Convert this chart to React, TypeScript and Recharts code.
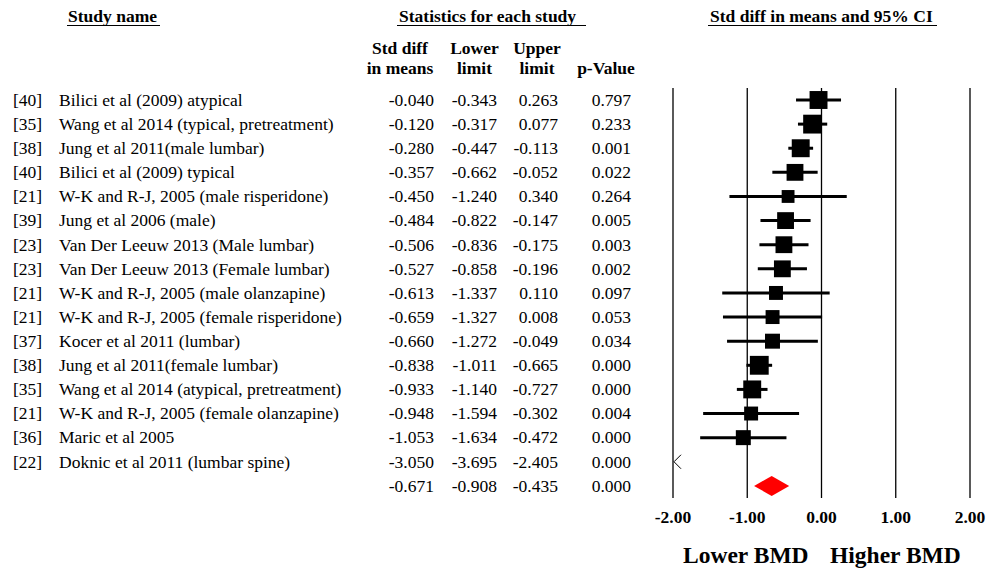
import React from 'react';
import { ComposedChart, Bar, XAxis, YAxis, CartesianGrid } from 'recharts';

const refs = ['[40]', '[35]', '[38]', '[40]', '[21]', '[39]', '[23]', '[23]', '[21]', '[21]', '[37]', '[38]', '[35]', '[21]', '[36]', '[22]', ''];
const studyNames = [
  'Bilici et al (2009) atypical',
  'Wang et al 2014 (typical, pretreatment)',
  'Jung et al 2011(male lumbar)',
  'Bilici et al (2009) typical',
  'W-K and R-J, 2005 (male risperidone)',
  'Jung et al 2006 (male)',
  'Van Der Leeuw 2013 (Male lumbar)',
  'Van Der Leeuw 2013 (Female lumbar)',
  'W-K and R-J, 2005 (male olanzapine)',
  'W-K and R-J, 2005 (female risperidone)',
  'Kocer et al 2011 (lumbar)',
  'Jung et al 2011(female lumbar)',
  'Wang et al 2014 (atypical, pretreatment)',
  'W-K and R-J, 2005 (female olanzapine)',
  'Maric et al 2005',
  'Doknic et al 2011 (lumbar spine)',
  '',
];
const stdDiff = [-0.04, -0.12, -0.28, -0.357, -0.45, -0.484, -0.506, -0.527, -0.613, -0.659, -0.66, -0.838, -0.933, -0.948, -1.053, -3.05, -0.671];
const lowerLimit = [-0.343, -0.317, -0.447, -0.662, -1.24, -0.822, -0.836, -0.858, -1.337, -1.327, -1.272, -1.011, -1.14, -1.594, -1.634, -3.695, -0.908];
const upperLimit = [0.263, 0.077, -0.113, -0.052, 0.34, -0.147, -0.175, -0.196, 0.11, 0.008, -0.049, -0.665, -0.727, -0.302, -0.472, -2.405, -0.435];
const pValues = [0.797, 0.233, 0.001, 0.022, 0.264, 0.005, 0.003, 0.002, 0.097, 0.053, 0.034, 0.0, 0.0, 0.004, 0.0, 0.0, 0.0];
// relative study weights (%) – box area proportional to weight
const weights = [7.6, 8.4, 7.6, 6.7, 3.9, 6.7, 6.7, 6.7, 4.6, 4.6, 5.3, 8.4, 7.6, 4.6, 5.3, 5.3, 0];
const summaryIndex = 16;
const xDomain: [number, number] = [-2, 2];
const xTicks = [-2, -1, 0, 1, 2];

const rows = studyNames.map((name, i) => ({
  id: String(i),
  ref: refs[i],
  name,
  est: stdDiff[i],
  lower: lowerLimit[i],
  upper: upperLimit[i],
  p: pValues[i],
  weight: weights[i],
  summary: i === summaryIndex,
  ci: [lowerLimit[i], upperLimit[i]],
}));

const FONT = '"Liberation Serif", "Times New Roman", Times, serif';
const FS = 17.5;

const ForestShape = (props: any) => {
  const { x, y, width, height, payload } = props;
  if (x == null || y == null || !payload) return null;
  const x0 = Math.min(x, x + width);
  const w = Math.abs(width);
  const cy = y + height / 2;
  const span = payload.upper - payload.lower;
  const px = (v: number) => x0 + (w * (v - payload.lower)) / span;
  const xe = px(payload.est);
  if (payload.summary) {
    return (
      <polygon
        points={`${x0},${cy} ${xe},${cy - 10} ${x0 + w},${cy} ${xe},${cy + 10}`}
        fill="#ff0000"
      />
    );
  }
  if (payload.upper < xDomain[0]) {
    const bx = px(xDomain[0]);
    return (
      <polyline
        points={`${bx + 8},${cy - 7} ${bx + 1},${cy} ${bx + 8},${cy + 7}`}
        fill="none"
        stroke="#000"
        strokeWidth={1}
      />
    );
  }
  const s = Math.sqrt(payload.weight) * 6.5;
  return (
    <g>
      <line x1={x0} x2={x0 + w} y1={cy} y2={cy} stroke="#000" strokeWidth={3} />
      <rect x={xe - s / 2} y={cy - s / 2} width={s} height={s} fill="#000" />
    </g>
  );
};

const RowTick = (props: any) => {
  const { y, payload } = props;
  const r = rows[Number(payload?.value)];
  if (!r) return null;
  const common = { fontFamily: FONT, fontSize: FS, fill: '#000', dy: '0.33em', y };
  return (
    <g>
      <text {...common} x={13} textAnchor="start">{r.ref}</text>
      <text {...common} x={59} textAnchor="start">{r.name}</text>
      <text {...common} x={434} textAnchor="end">{r.est.toFixed(3)}</text>
      <text {...common} x={497} textAnchor="end">{r.lower.toFixed(3)}</text>
      <text {...common} x={558} textAnchor="end">{r.upper.toFixed(3)}</text>
      <text {...common} x={631} textAnchor="end">{r.p.toFixed(3)}</text>
    </g>
  );
};

const Headers = () => {
  const b = { fontFamily: FONT, fontSize: FS, fontWeight: 'bold' as const, fill: '#000' };
  return (
    <svg width={1003} height={571} style={{ position: 'absolute', left: 0, top: 0, pointerEvents: 'none' }}>
      <text {...b} x={68} y={22}>Study name</text>
      <line x1={67} x2={160} y1={25.5} y2={25.5} stroke="#000" strokeWidth={1.2} />
      <text {...b} x={399} y={22}>Statistics for each study</text>
      <line x1={397} x2={586} y1={25.5} y2={25.5} stroke="#000" strokeWidth={1.2} />
      <text {...b} x={710} y={22}>Std diff in means and 95% CI</text>
      <line x1={708} x2={937} y1={25.5} y2={25.5} stroke="#000" strokeWidth={1.2} />

      <text {...b} x={400} y={54} textAnchor="middle">Std diff</text>
      <text {...b} x={400} y={73.5} textAnchor="middle">in means</text>
      <text {...b} x={474.5} y={54} textAnchor="middle">Lower</text>
      <text {...b} x={474.5} y={73.5} textAnchor="middle">limit</text>
      <text {...b} x={537} y={54} textAnchor="middle">Upper</text>
      <text {...b} x={537} y={73.5} textAnchor="middle">limit</text>
      <text {...b} x={606} y={73.5} textAnchor="middle">p-Value</text>

      <text {...b} fontSize={23.5} x={683} y={562.5}>Lower BMD</text>
      <text {...b} fontSize={23.5} x={830} y={562.5}>Higher BMD</text>
    </svg>
  );
};

export default function App() {
  return (
    <div style={{ position: 'absolute', left: 0, top: 0, width: 1003, height: 571, background: '#fff' }}>
      <ComposedChart
        width={1003}
        height={571}
        layout="vertical"
        data={rows}
        margin={{ top: 88, right: 33, bottom: 43, left: 0 }}
      >
        <CartesianGrid horizontal={false} vertical stroke="#000" strokeWidth={1.3} />
        <XAxis
          type="number"
          domain={xDomain}
          ticks={xTicks}
          allowDataOverflow
          interval={0}
          height={30}
          axisLine={false}
          tickLine={false}
          tickMargin={7}
          tickFormatter={(v: number) => v.toFixed(2)}
          tick={{ fill: '#000', fontSize: FS, fontWeight: 'bold', fontFamily: FONT }}
        />
        <YAxis
          type="category"
          dataKey="id"
          width={673}
          interval={0}
          axisLine={false}
          tickLine={false}
          tick={<RowTick />}
        />
        <Bar dataKey="ci" barSize={20} shape={<ForestShape />} isAnimationActive={false} />
      </ComposedChart>
      <Headers />
    </div>
  );
}
